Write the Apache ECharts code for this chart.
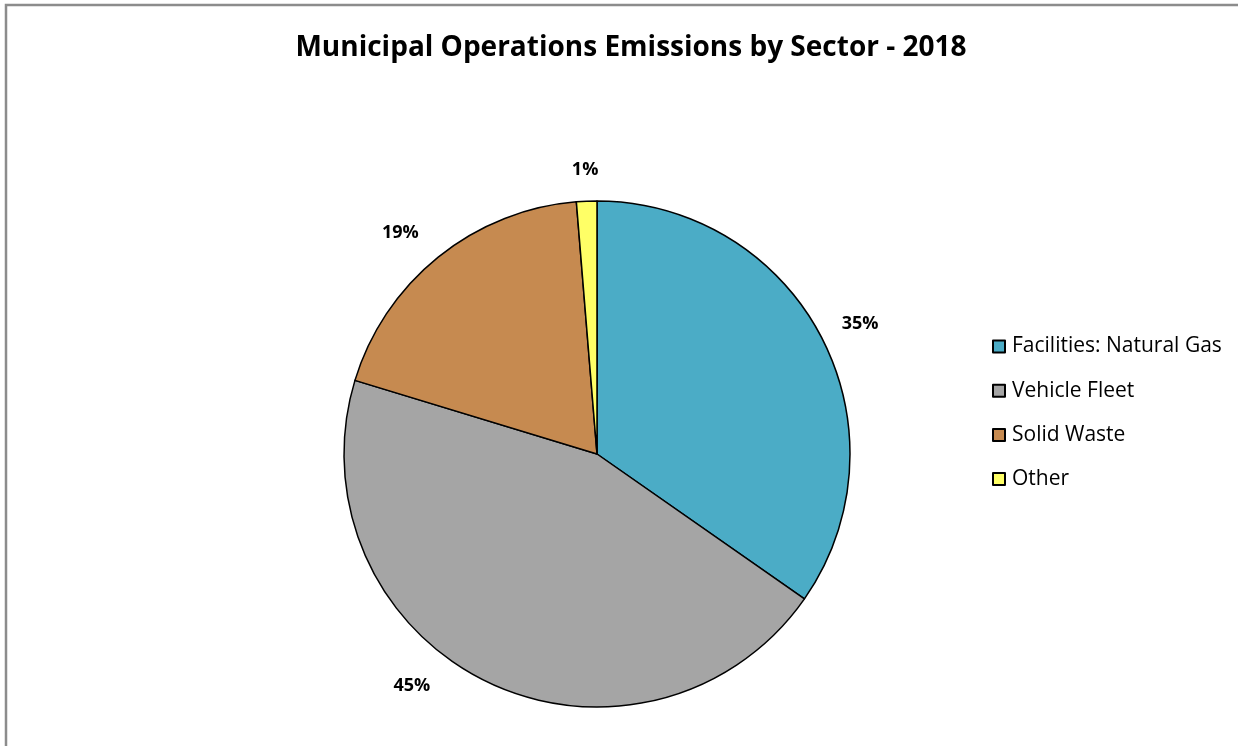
<!DOCTYPE html>
<html><head><meta charset="utf-8">
<script src="https://cdn.jsdelivr.net/npm/echarts@6/dist/echarts.min.js"></script>
<style>html,body{margin:0;padding:0;background:#fff;}#c{width:1238px;height:746px;}</style>
</head><body><div id="c"></div>
<script>
const titleText = 'Municipal Operations Emissions by Sector - 2018';
const categories = ['Facilities: Natural Gas', 'Vehicle Fleet', 'Solid Waste', 'Other'];
const values = [34.7, 45.0, 19.0, 1.3];
const colors = ['#4BACC6', '#A5A5A5', '#C68A50', '#FFFF66'];

const chart = echarts.init(document.getElementById('c'));
const center = [597, 454];
const R = 253;
// small "best fit" nudges of the outside labels, like the original
const labelShift = {
  'Facilities: Natural Gas': [5, 4],
  'Vehicle Fleet': [-58, -30],
  'Solid Waste': [-14, 5],
  'Other': [0, 7]
};
chart.setOption({
  animation: false,
  backgroundColor: '#fff',
  title: {
    text: titleText, left: 626, top: 29, textAlign: 'center',
    textStyle: {fontFamily: 'Open Sans', fontWeight: 'bold', fontSize: 28, color: '#000'}
  },
  graphic: [{
    type: 'rect', shape: {x: 6, y: 5, width: 1300, height: 800},
    style: {fill: 'none', stroke: '#8c8c8c', lineWidth: 2.5}, silent: true
  }],
  legend: {
    orient: 'vertical', left: 992, top: 336, padding: 0, itemWidth: 12, itemHeight: 12, itemGap: 23.2,
    icon: 'rect',
    textStyle: {fontFamily: 'Open Sans', fontSize: 21, lineHeight: 20, color: '#000', padding: [0, 0, 0, 2]},
    data: categories.map((n, i) => ({name: n, itemStyle: {color: colors[i], borderColor: '#000', borderWidth: 2}}))
  },
  series: [{
    type: 'pie', center: center, radius: [0, R], startAngle: 90, clockwise: true,
    label: {show: false}, labelLine: {show: false},
    itemStyle: {borderColor: '#000', borderWidth: 1.5},
    data: categories.map((n, i) => ({name: n, value: values[i], itemStyle: {color: colors[i]}}))
  }, {
    type: 'pie', center: center, radius: [R + 16, R + 54], startAngle: 90, clockwise: true, silent: true,
    itemStyle: {color: 'rgba(0,0,0,0)', borderWidth: 0},
    label: {show: true, position: 'inside', fontFamily: 'Open Sans', fontWeight: 'bold', fontSize: 18, color: '#000',
      formatter: p => Math.round(p.percent) + '%'},
    labelLine: {show: false},
    data: categories.map((n, i) => ({name: n, value: values[i],
      label: labelShift[n] ? {offset: labelShift[n]} : undefined}))
  }]
});
</script></body></html>
